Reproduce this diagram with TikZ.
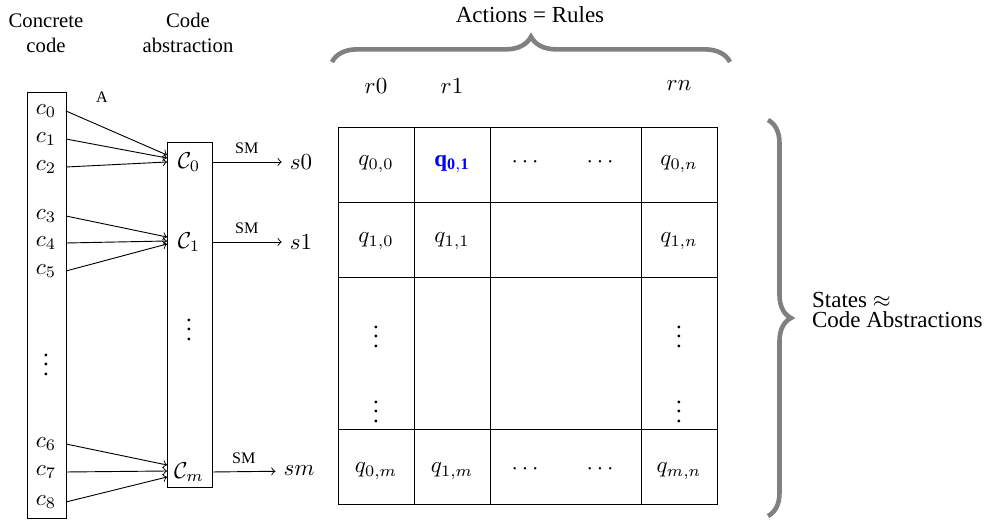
\documentclass[tikz,border=0pt]{standalone}
\usepackage{amsmath,amssymb}
\usepackage{fontspec}
\setmainfont{Liberation Serif}
\usepackage{tikz}
\usetikzlibrary{calc,decorations.pathreplacing}
\tikzset{
  bigbrace/.style={decorate,decoration={brace,amplitude=#1},draw=gray,line width=2pt},
  smlbl/.style={midway,above,font=\scriptsize},
  dotsnode/.style={inner sep=0pt},
}

\begin{document}
\begin{tikzpicture}[x=0.435pt,y=-0.435pt,>=to]
        \useasboundingbox (0,0) rectangle (986,525);
        % headings
        \node[font=\small,align=center] (hconc) at (46,33) {Concrete\\code};
        \node[font=\small,align=center] (habs) at (188,33) {Code\\abstraction};
        % concrete code column
        \draw (27,92) rectangle (66,518);
        \coordinate (cR) at (66,0);
        \foreach \i/\y in {0/111,1/139,2/167,3/216,4/243,5/271,6/444,7/472,8/502} {
        \node (c\i) at (46,\y) {$c_\i$}; }
        \node[dotsnode] (cdots) at (46,358) {$\vdots$};
        \node[font=\scriptsize] (albl) at (102,97) {A};
        % abstraction column
        \draw (167,142) rectangle (212,487);
        \coordinate (aL) at (167,0);
        \coordinate (aR) at (212,0);
        \node (C0) at (189,162) {$\mathcal{C}_0$};
        \node (C1) at (189,242) {$\mathcal{C}_1$};
        \node[dotsnode] (Cdots) at (189,323) {$\vdots$};
        \node (Cm) at (189,472) {$\mathcal{C}_m$};
        \foreach \a/\b/\d in {0/0/-7,1/0/-4,2/0/0,3/1/-5,4/1/-1,5/1/2,6/m/-7,7/m/-1,8/m/5} {
        \draw[->] (c\a -| cR) -- ($(C\b -| aL)+(0,\d)$); }
        % states
        \node (s0) at (301,162) {$s0$};
        \node (s1) at (301,242) {$s1$};
        \node (sm) at (299,471) {$sm$};
        \foreach \k in {0,1,m} {
        \draw[->] (C\k -| aR) -- (s\k) node[smlbl] {SM}; }
        % q table
        \draw (338,127) rectangle (717,504);
        \foreach \x in {414,490,641} { \draw (\x,127) -- (\x,504); }
        \foreach \y in {202,277,429} { \draw (338,\y) -- (717,\y); }
        \node (r0) at (376,86) {$r0$};
        \node (r1) at (452,86) {$r1$};
        \node (rn) at (679,86) {$rn$};
        \node (q00) at (376,164) {$q_{0,0}$};
        \node (q01) at (452,164) {\textcolor{blue}{$\mathbf{q_{0,1}}$}};
        \node (q0dA) at (527,162) {$\cdots$};
        \node (q0dB) at (602,162) {$\cdots$};
        \node (q0n) at (679,164) {$q_{0,n}$};
        \node (q10) at (376,241) {$q_{1,0}$};
        \node (q11) at (452,241) {$q_{1,1}$};
        \node (q1n) at (679,241) {$q_{1,n}$};
        \foreach \x/\c in {376/0,679/n} {
        \node[dotsnode] (vA\c) at (\x,330) {$\vdots$};
        \node[dotsnode] (vB\c) at (\x,405) {$\vdots$}; }
        \node (q0m) at (376,471) {$q_{0,m}$};
        \node (q1m) at (452,471) {$q_{1,m}$};
        \node (qmdA) at (527,469) {$\cdots$};
        \node (qmdB) at (602,469) {$\cdots$};
        \node (qmn) at (679,471) {$q_{m,n}$};
        % braces
        \draw[bigbrace=11pt] (332,62) -- (730,62);
        \node (acts) at (530,15) {Actions = Rules};
        \draw[bigbrace=10pt] (768,120) -- (768,516);
        \node[align=left,anchor=west] (states) at (804,310) {States $\approx$\\[-3pt]Code Abstractions};
      \end{tikzpicture}
\end{document}
